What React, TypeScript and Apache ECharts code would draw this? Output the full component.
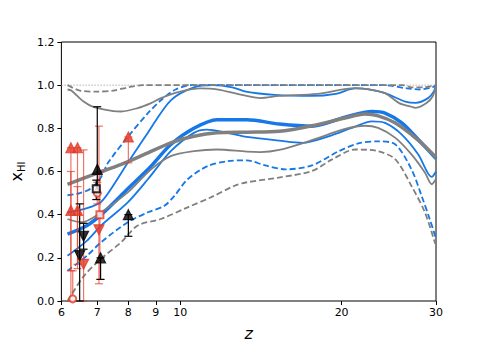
import React, { useEffect, useRef } from 'react';
import * as echarts from 'echarts';

// x-axis ticks (redshift z, log scale)
const xTicks = [6, 7, 8, 9, 10, 20, 30];
const zMin = 6;
const zMax = 30;

// Blue model curves [z, x_HI]
const blueUpper95: [number, number][] = [
  [6.16, 0.49], [6.5, 0.5], [6.8, 0.52], [7.1, 0.57], [7.33, 0.64], [8.04, 0.77], [8.7, 0.87],
  [9.2, 0.93], [9.8, 0.98], [10.5, 1.0], [14, 1.0], [20, 1.0], [24, 1.0], [26.5, 0.985],
  [28, 0.98], [29.5, 0.99], [30, 1.0],
];
const blueUpper68: [number, number][] = [
  [6.16, 0.41], [6.7, 0.43], [7.12, 0.46], [7.43, 0.52], [7.98, 0.64], [8.7, 0.78], [9.6, 0.93],
  [10.6, 0.99], [11.5, 1.0], [12.5, 0.99], [13.25, 0.97], [15, 0.955], [17.6, 0.95], [19.5, 0.96],
  [21.2, 0.985], [22.5, 0.98], [24.1, 0.963], [26.3, 0.924], [27.5, 0.918], [29.0, 0.94],
  [29.7, 0.97], [30, 1.0],
];
const blueMedian: [number, number][] = [
  [6.16, 0.31], [6.7, 0.35], [7.12, 0.4], [7.98, 0.52], [8.82, 0.625], [9.6, 0.725], [10.6, 0.8],
  [11.7, 0.84], [13.3, 0.84], [15.3, 0.82], [17.6, 0.81], [20.3, 0.852], [22.8, 0.878],
  [24.1, 0.871], [25.9, 0.825], [27.8, 0.748], [30, 0.66],
];
const blueLower68: [number, number][] = [
  [6.16, 0.21], [6.7, 0.28], [7.12, 0.35], [7.98, 0.457], [8.7, 0.564], [9.6, 0.694], [10.6, 0.779],
  [11.2, 0.794], [12.25, 0.779], [13.3, 0.76], [15.3, 0.743], [16.9, 0.733], [18.9, 0.763],
  [20.9, 0.802], [22.8, 0.832], [24.1, 0.825], [25.9, 0.771], [27.8, 0.679], [29.45, 0.575],
  [30, 0.6],
];
const blueLower95: [number, number][] = [
  [6.16, 0.14], [6.7, 0.21], [7.12, 0.273], [7.98, 0.365], [8.7, 0.411], [9.34, 0.441],
  [9.75, 0.487], [10.32, 0.564], [11.24, 0.625], [12.25, 0.648], [13.3, 0.652], [14.4, 0.628],
  [15.7, 0.61], [17.6, 0.628], [19.75, 0.694], [21.5, 0.73], [23.4, 0.74], [25.2, 0.725],
  [27.0, 0.61], [28.2, 0.487], [29.2, 0.38], [30, 0.29],
];

// Grey model curves [z, x_HI]
const greyUpper95: [number, number][] = [
  [6.16, 1.0], [6.5, 0.975], [7.0, 0.97], [7.5, 0.975], [8.0, 0.99], [8.5, 1.0], [14, 1.0],
  [20, 1.0], [26, 1.0], [27, 0.99], [28.5, 0.99], [30, 1.0],
];
const greyUpper68: [number, number][] = [
  [6.16, 0.98], [6.26, 0.975], [6.6, 0.924], [6.9, 0.898], [7.5, 0.88], [7.76, 0.878],
  [8.33, 0.894], [8.82, 0.917], [9.2, 0.94], [10.0, 0.97], [10.9, 0.985], [11.7, 0.98],
  [13.3, 0.95], [14.1, 0.94], [15.3, 0.95], [18.0, 0.96], [21.2, 0.986], [22.5, 0.98],
  [24.1, 0.963], [25.6, 0.917], [27.0, 0.9], [27.5, 0.895], [28.8, 0.917], [29.6, 0.95], [30, 1.0],
];
const greyMedian: [number, number][] = [
  [6.16, 0.54], [6.9, 0.587], [7.76, 0.633], [8.57, 0.679], [9.6, 0.733], [10.6, 0.763],
  [11.7, 0.779], [13.3, 0.782], [15.3, 0.786], [17.6, 0.812], [20.3, 0.848], [22.1, 0.866],
  [23.4, 0.858], [25.2, 0.825], [27.0, 0.771], [28.6, 0.717], [30, 0.665],
];
const greyLower68: [number, number][] = [
  [6.16, 0.38], [6.54, 0.365], [7.12, 0.411], [7.98, 0.503], [8.82, 0.61], [9.6, 0.671],
  [10.6, 0.694], [11.7, 0.702], [13.3, 0.692], [14.1, 0.69], [15.3, 0.7], [17.6, 0.745],
  [20.3, 0.797], [22.1, 0.812], [23.4, 0.802], [25.2, 0.756], [27.0, 0.679], [28.6, 0.595],
  [29.45, 0.541], [30, 0.565],
];
const greyLower95: [number, number][] = [
  [6.16, 0.0], [6.26, 0.028], [6.63, 0.12], [7.12, 0.196], [7.76, 0.273], [8.33, 0.35],
  [9.2, 0.38], [10.32, 0.434], [11.4, 0.48], [12.6, 0.533], [13.25, 0.549], [15.27, 0.572],
  [17.6, 0.602], [19.2, 0.656], [21.2, 0.702], [23.4, 0.694], [25.2, 0.656], [27.0, 0.533],
  [28.6, 0.411], [29.9, 0.265],
];

// Red observational constraints
const redZ = [6.25, 6.25, 6.43, 6.43, 6.3, 6.6, 7.05, 7.08, 7.0, 8.0];
const redY = [0.71, 0.42, 0.71, 0.42, 0.01, 0.17, 0.33, 0.4, 0.5, 0.76];
const redLo = [0.14, 0.0, 0.15, 0.17, 0.0, 0.0, 0.08, 0.1, 0.45, 0.64];
const redHi = [0.71, 0.6, 0.71, 0.53, 0.14, 0.7, 0.81, 0.6, 0.55, 0.76];
const redMarker = ['up', 'up', 'up', 'up', 'circle', 'down', 'down', 'square', 'circle', 'up'];

// Black observational constraints
const blackZ = [6.49, 6.6, 7.0, 6.97, 7.1, 8.0];
const blackY = [0.21, 0.3, 0.61, 0.52, 0.2, 0.4];
const blackLo = [0.0, 0.24, 0.5, 0.47, 0.1, 0.3];
const blackHi = [0.45, 0.36, 0.9, 0.56, 0.2, 0.4];
const blackMarker = ['down', 'down', 'up', 'square', 'up', 'up'];

const BLUE = '#1677e6';
const GREY = '#808080';
const RED = '#e23b28';
const RED_BAR = 'rgba(226,59,40,0.7)';
const FONT = 'DejaVu Sans';

const lx = (z: number) => Math.log10(z);

function markerItem(z: number, y: number, m: string, color: string) {
  const base: any = { value: [lx(z), y] };
  if (m === 'up') {
    base.symbol = 'triangle';
  } else if (m === 'down') {
    base.symbol = 'triangle';
    base.symbolRotate = 180;
  } else if (m === 'circle') {
    base.symbol = 'emptyCircle';
    base.symbolSize = 7;
  } else if (m === 'square') {
    base.symbol = 'emptyRect';
    base.symbolSize = 7;
  }
  base.itemStyle = { color, borderColor: color, borderWidth: 1.2 };
  return base;
}

function errorSeries(zs: number[], lo: number[], hi: number[], color: string) {
  return {
    type: 'custom',
    z: 5,
    encode: { x: 0, y: [1, 2] },
    data: zs.map((z, i) => [lx(z), lo[i], hi[i]]),
    renderItem: (_p: any, api: any) => {
      const x = api.value(0);
      const a = api.coord([x, api.value(1)]);
      const b = api.coord([x, api.value(2)]);
      const w = 4;
      const style = { stroke: color, lineWidth: 1.2 };
      return {
        type: 'group',
        children: [
          { type: 'line', shape: { x1: a[0], y1: a[1], x2: b[0], y2: b[1] }, style },
          { type: 'line', shape: { x1: a[0] - w, y1: a[1], x2: a[0] + w, y2: a[1] }, style },
          { type: 'line', shape: { x1: b[0] - w, y1: b[1], x2: b[0] + w, y2: b[1] }, style },
        ],
      };
    },
  };
}

function curve(data: [number, number][], color: string, width: number, dashed: boolean, zl: number) {
  return {
    type: 'line',
    data: data.map(([z, y]) => [lx(z), y]),
    showSymbol: false,
    smooth: 0.3,
    z: zl,
    lineStyle: { color, width, type: dashed ? [6, 3] : 'solid', cap: 'butt' },
    silent: true,
  };
}

export default function App() {
  const ref = useRef<HTMLDivElement>(null);
  useEffect(() => {
    if (!ref.current) return;
    const chart = echarts.init(ref.current, null, { renderer: 'svg' });
    const tickVals = xTicks.map(lx);
    chart.setOption({
      animation: false,
      backgroundColor: '#fff',
      grid: {
        left: 60, right: 49, top: 42, bottom: 44,
        show: true, borderColor: '#000', borderWidth: 1, backgroundColor: 'transparent',
      },
      xAxis: {
        type: 'value',
        min: lx(zMin),
        max: lx(zMax),
        splitLine: { show: false },
        axisLine: { show: false },
        axisTick: { show: true, customValues: tickVals, length: 4, lineStyle: { color: '#000' } },
        axisLabel: {
          customValues: tickVals,
          formatter: (v: number) => String(Math.round(Math.pow(10, v))),
          color: '#000', fontFamily: FONT, fontSize: 11, margin: 6,
        },
        name: 'z',
        nameLocation: 'middle',
        nameGap: 24,
        nameTextStyle: { fontFamily: FONT, fontSize: 16, fontStyle: 'italic', color: '#000' },
      },
      yAxis: {
        type: 'value',
        min: 0,
        max: 1.2,
        interval: 0.2,
        splitLine: { show: false },
        axisLine: { show: false },
        axisTick: { show: true, length: 4, lineStyle: { color: '#000' } },
        axisLabel: {
          formatter: (v: number) => v.toFixed(1),
          color: '#000', fontFamily: FONT, fontSize: 11, margin: 7,
        },
        name: '{a|x}{b|HI}',
        nameLocation: 'middle',
        nameGap: 32,
        nameRotate: 90,
        nameTextStyle: {
          color: '#000',
          fontFamily: FONT,
          rich: {
            a: { fontFamily: FONT, fontSize: 16, color: '#000', verticalAlign: 'bottom', lineHeight: 17 },
            b: { fontFamily: FONT, fontSize: 10, color: '#000', verticalAlign: 'bottom', lineHeight: 11, padding: [0, 0, -2, 0] },
          },
        },
      },
      series: [
        {
          type: 'line',
          data: [[lx(zMin), 1.0], [lx(zMax), 1.0]],
          showSymbol: false,
          silent: true,
          z: 1,
          lineStyle: { color: '#b0b0b0', width: 1, type: [1.5, 1.5] },
        },
        curve(blueUpper95, BLUE, 1.8, true, 2),
        curve(blueLower95, BLUE, 1.8, true, 2),
        curve(blueUpper68, BLUE, 1.8, false, 2),
        curve(blueLower68, BLUE, 1.8, false, 2),
        curve(blueMedian, BLUE, 3.5, false, 2),
        curve(greyUpper95, GREY, 1.8, true, 3),
        curve(greyLower95, GREY, 1.8, true, 3),
        curve(greyUpper68, GREY, 1.8, false, 3),
        curve(greyLower68, GREY, 1.8, false, 3),
        curve(greyMedian, GREY, 3.5, false, 3),
        errorSeries(redZ, redLo, redHi, RED_BAR),
        errorSeries(blackZ, blackLo, blackHi, '#000'),
        {
          type: 'scatter',
          z: 6,
          symbolSize: 10,
          data: redZ.map((z, i) => markerItem(z, redY[i], redMarker[i], RED)),
        },
        {
          type: 'scatter',
          z: 7,
          symbolSize: 10,
          data: blackZ.map((z, i) => markerItem(z, blackY[i], blackMarker[i], '#000')),
        },
      ],
    });
    return () => chart.dispose();
  }, []);
  return (
    <div
      ref={ref}
      style={{ position: 'absolute', left: 0, top: 0, width: 485, height: 346, background: '#fff' }}
    />
  );
}
